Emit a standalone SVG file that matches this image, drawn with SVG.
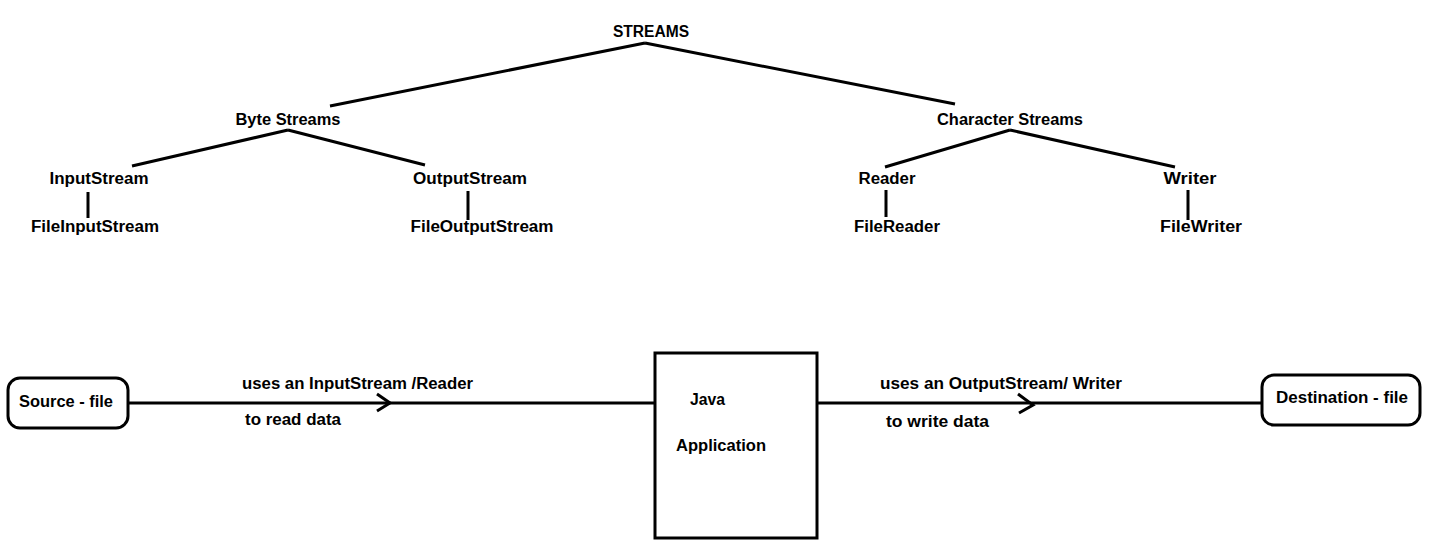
<svg xmlns="http://www.w3.org/2000/svg" width="1448" height="553" viewBox="0 0 1448 553">
<style>
text{font-family:"Liberation Sans",Arial,sans-serif;font-weight:bold;font-size:16px;fill:#000}
.c{text-anchor:middle}
.ln{stroke:#000;stroke-width:3;fill:none;stroke-linecap:butt}
.box{stroke:#000;stroke-width:3;fill:#fff}
</style>
<rect width="1448" height="553" fill="#fff"/>
<g id="connectors">
<path class="ln" d="M645 43 L330 106 M645 43 L955 104"/>
<path class="ln" d="M288 130 L132 166 M288 130 L425 165"/>
<path class="ln" d="M1010 130 L885 167 M1010 130 L1175 167"/>
<path class="ln" d="M88 192 L88 218 M468 191 L468 220 M886 190 L886 217 M1188 190 L1188 220"/>
<path class="ln" d="M128 403 L655 403 M817 403 L1262 403"/>
<path class="ln" d="M377 394 L390 403 L377 411"/>
<path class="ln" d="M1018 394 L1033 405 L1019 413"/>
</g>
<g id="streams"><text class="c" x="651" y="37" textLength="76" lengthAdjust="spacingAndGlyphs">STREAMS</text></g>
<g id="byte-streams"><text class="c" x="288" y="125" textLength="105" lengthAdjust="spacingAndGlyphs">Byte Streams</text></g>
<g id="character-streams"><text class="c" x="1010" y="125" textLength="146" lengthAdjust="spacingAndGlyphs">Character Streams</text></g>
<g id="inputstream"><text class="c" x="99" y="184" textLength="99" lengthAdjust="spacingAndGlyphs">InputStream</text></g>
<g id="outputstream"><text class="c" x="470" y="184" textLength="114" lengthAdjust="spacingAndGlyphs">OutputStream</text></g>
<g id="reader"><text class="c" x="887" y="184" textLength="57" lengthAdjust="spacingAndGlyphs">Reader</text></g>
<g id="writer"><text class="c" x="1190" y="184" textLength="53" lengthAdjust="spacingAndGlyphs">Writer</text></g>
<g id="fileinputstream"><text class="c" x="95" y="232" textLength="128" lengthAdjust="spacingAndGlyphs">FileInputStream</text></g>
<g id="fileoutputstream"><text class="c" x="482" y="232" textLength="143" lengthAdjust="spacingAndGlyphs">FileOutputStream</text></g>
<g id="filereader"><text class="c" x="897" y="232" textLength="86" lengthAdjust="spacingAndGlyphs">FileReader</text></g>
<g id="filewriter"><text class="c" x="1201" y="232" textLength="82" lengthAdjust="spacingAndGlyphs">FileWriter</text></g>
<g id="source-file">
<rect class="box" x="8" y="378" width="120" height="50" rx="12"/>
<text x="19" y="407" textLength="94" lengthAdjust="spacingAndGlyphs">Source - file</text>
</g>
<g id="java-application">
<rect class="box" x="655" y="353" width="162" height="185"/>
<text x="690" y="405" textLength="35" lengthAdjust="spacingAndGlyphs">Java</text>
<text x="676" y="451" textLength="90" lengthAdjust="spacingAndGlyphs">Application</text>
</g>
<g id="destination-file">
<rect class="box" x="1262" y="375" width="158" height="50" rx="12"/>
<text x="1276" y="403" textLength="132" lengthAdjust="spacingAndGlyphs">Destination - file</text>
</g>
<g id="labels">
<text x="242" y="389" textLength="231" lengthAdjust="spacingAndGlyphs">uses an InputStream /Reader</text>
<text x="245" y="425" textLength="96" lengthAdjust="spacingAndGlyphs">to read data</text>
<text x="880" y="389" textLength="242" lengthAdjust="spacingAndGlyphs">uses an OutputStream/ Writer</text>
<text x="886" y="427" textLength="103" lengthAdjust="spacingAndGlyphs">to write data</text>
</g>
</svg>
